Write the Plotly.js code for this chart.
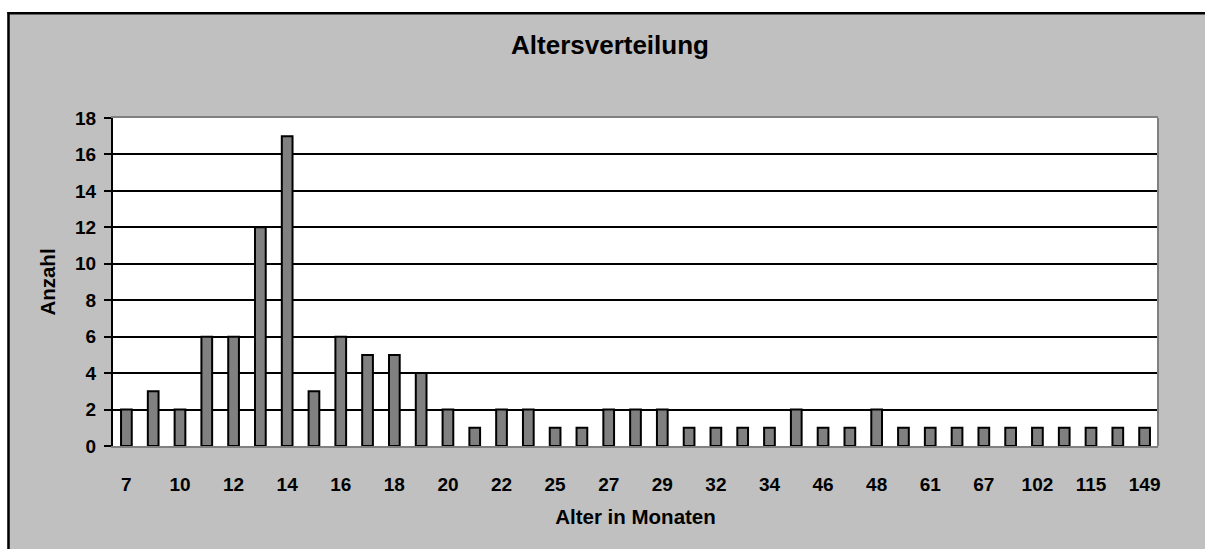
<!DOCTYPE html>
<html>
<head>
<meta charset="utf-8">
<script src="https://cdn.plot.ly/plotly-3.0.1.min.js"></script>
<style>
html,body{margin:0;padding:0;background:#ffffff;}
#chart{width:1205px;height:549px;}
</style>
</head>
<body>
<div id="chart"></div>
<script>
// Data
const ageMonths = ['7','8','10','11','12','13','14','15','16','17','18','19','20','21','22','23','25','26','27','28','29','30','32','33','34','36','46','47','48','50','61','64','67','72','102','108','115','120','149'];
const counts    = [2,3,2,6,6,12,17,3,6,5,5,4,2,1,2,2,1,1,2,2,2,1,1,1,1,2,1,1,2,1,1,1,1,1,1,1,1,1,1];
const shownTicks = ageMonths.filter((c, i) => i % 2 === 0);
const yTicks = [0,2,4,6,8,10,12,14,16,18];

const W = 1205, H = 549;
const mL = 113, mR = 47, mT = 118, mB = 103;
const pw = W - mL - mR, ph = H - mT - mB;
const px = v => (v - mL) / pw;          // pixel x -> paper x
const py = v => (H - mB - v) / ph;      // pixel y -> paper y

const FONT = 'Liberation Sans, Arial, sans-serif';

const trace = {
  type: 'bar',
  x: ageMonths,
  y: counts,
  marker: {color: '#808080', line: {color: '#000000', width: 2}},
  hoverinfo: 'x+y'
};

const layout = {
  width: W, height: H,
  margin: {l: mL, r: mR, t: mT, b: mB, pad: 0},
  paper_bgcolor: '#c0c0c0',
  plot_bgcolor: '#ffffff',
  showlegend: false,
  bargap: 0.6,
  font: {family: FONT, color: '#000000'},
  title: {
    text: '<b>Altersverteilung</b>',
    font: {family: FONT, size: 26, color: '#000000'},
    x: 610 / W, xref: 'container', xanchor: 'center',
    y: 1 - 45 / H, yref: 'container', yanchor: 'middle'
  },
  xaxis: {
    type: 'category',
    tickmode: 'array',
    tickvals: shownTicks,
    ticktext: shownTicks.map(t => '<b>' + t + '</b>'),
    ticks: '',
    ticklabelstandoff: 20,
    tickfont: {family: FONT, size: 19, color: '#000000'},
    showgrid: false,
    zeroline: false,
    showline: true, linecolor: '#808080', linewidth: 2, mirror: true,
    title: {text: '<b>Alter in Monaten</b>', font: {family: FONT, size: 20.5, color: '#000000'}, standoff: 16},
    automargin: false,
    fixedrange: true
  },
  yaxis: {
    range: [0, 18],
    tickmode: 'array',
    tickvals: yTicks,
    ticktext: yTicks.map(t => '<b>' + t + '</b>'),
    ticks: 'outside', ticklen: 7, tickwidth: 2, tickcolor: '#000000',
    ticklabelstandoff: 4,
    tickfont: {family: FONT, size: 19, color: '#000000'},
    showgrid: true, gridcolor: '#000000', gridwidth: 2,
    zeroline: false,
    showline: true, linecolor: '#000000', linewidth: 2,
    title: {text: '<b>Anzahl</b>', font: {family: FONT, size: 20.5, color: '#000000'}, standoff: 14},
    automargin: false,
    fixedrange: true
  },
  shapes: [
    // white page margin left and top
    {type: 'rect', xref: 'paper', yref: 'paper', x0: px(-5), x1: px(7.5), y0: py(H + 10), y1: py(-5), fillcolor: '#ffffff', line: {width: 0}, layer: 'above'},
    {type: 'rect', xref: 'paper', yref: 'paper', x0: px(-5), x1: px(W + 10), y0: py(12), y1: py(-5), fillcolor: '#ffffff', line: {width: 0}, layer: 'above'},
    // black chart-area border (left and top)
    {type: 'line', xref: 'paper', yref: 'paper', x0: px(8.5), x1: px(8.5), y0: py(12), y1: py(H + 10), line: {color: '#000000', width: 2.5}, layer: 'above'},
    {type: 'line', xref: 'paper', yref: 'paper', x0: px(7.5), x1: px(W + 10), y0: py(13.2), y1: py(13.2), line: {color: '#000000', width: 2.5}, layer: 'above'},
    // grey right border of plot area
    {type: 'line', xref: 'paper', yref: 'paper', x0: 1, x1: 1, y0: 0, y1: 1, line: {color: '#808080', width: 2}, layer: 'above'}
  ]
};

Plotly.newPlot('chart', [trace], layout, {displayModeBar: false, staticPlot: true});
</script>
</body>
</html>
